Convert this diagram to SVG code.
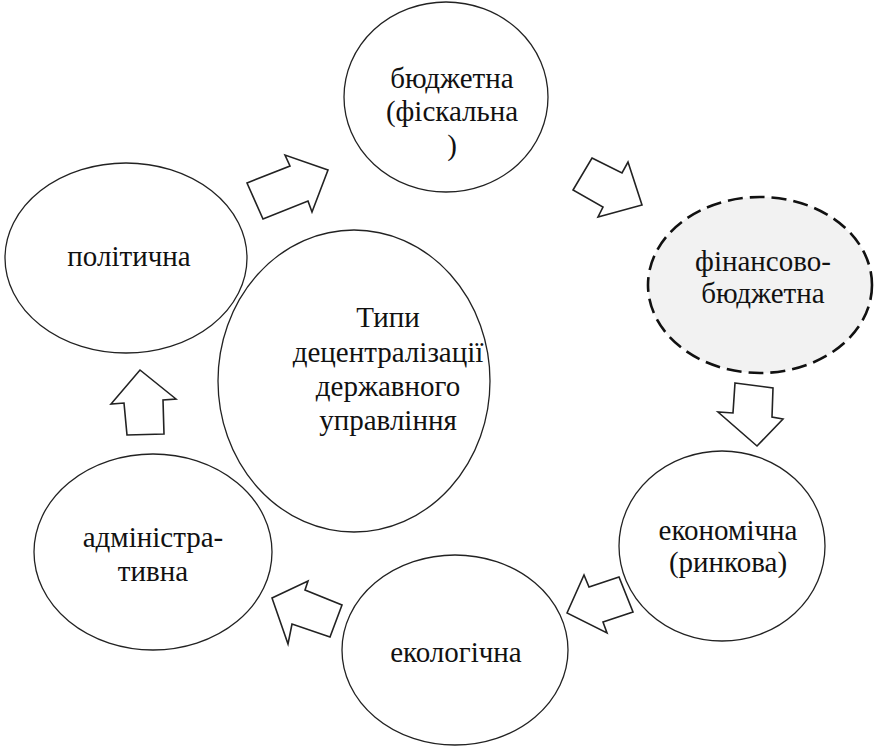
<svg xmlns="http://www.w3.org/2000/svg" width="875" height="746" viewBox="0 0 875 746">
<style>
.n{fill:none;stroke:#222;stroke-width:1.3}
.d{fill:#f2f2f2;stroke:#111;stroke-width:2.6;stroke-dasharray:15 7}
.a{fill:#fff;stroke:#222;stroke-width:1.6;stroke-linejoin:miter}
.t{font-family:'Liberation Serif','DejaVu Serif',serif;font-size:29px;fill:#111;text-anchor:middle}
</style>
<rect width="875" height="746" fill="#fff"/>
<g id="connectors">
<polygon class="a" points="247,183 290,166 285,155 328,170 312,212 308,201 263,219"/>
<polygon class="a" points="592,158 622,173 628,162 642,205 598,217 603,207 573,190"/>
<polygon class="a" points="735,383 773,388 772,417 783,419 757,446 718,412 733,413"/>
<polygon class="a" points="567,613 584,575 589,587 619,577 633,612 603,622 607,633"/>
<polygon class="a" points="272,598 308,581 305,590 342,605 330,637 292,624 288,644"/>
<polygon class="a" points="140,370 176,399 163,400 164,434 127,435 124,403 111,404"/>
</g>
<g id="budzhetna">
<ellipse class="n" cx="446" cy="97" rx="102" ry="95"/>
<text class="t" x="452" y="88">бюджетна</text>
<text class="t" x="452" y="121">(фіскальна</text>
<text class="t" x="452" y="155">)</text>
</g>
<g id="finansovo">
<ellipse class="d" cx="760" cy="285" rx="112" ry="88"/>
<text class="t" x="763" y="271">фінансово-</text>
<text class="t" x="763" y="303">бюджетна</text>
</g>
<g id="ekonomichna">
<ellipse class="n" cx="722" cy="546" rx="103" ry="95"/>
<text class="t" x="728" y="540">економічна</text>
<text class="t" x="728" y="572">(ринкова)</text>
</g>
<g id="ekologichna">
<ellipse class="n" cx="455" cy="650" rx="113" ry="95"/>
<text class="t" x="456" y="662">екологічна</text>
</g>
<g id="administratyvna">
<ellipse class="n" cx="153" cy="552" rx="119" ry="98"/>
<text class="t" x="153" y="547">адміністра-</text>
<text class="t" x="153" y="581">тивна</text>
</g>
<g id="politychna">
<ellipse class="n" cx="126" cy="258" rx="121" ry="95"/>
<text class="t" x="129" y="266">політична</text>
</g>
<g id="center">
<ellipse class="n" cx="354" cy="381" rx="136" ry="151"/>
<text class="t" x="388" y="327">Типи</text>
<text class="t" x="388" y="362">децентралізації</text>
<text class="t" x="388" y="396">державного</text>
<text class="t" x="388" y="430">управління</text>
</g>
</svg>
